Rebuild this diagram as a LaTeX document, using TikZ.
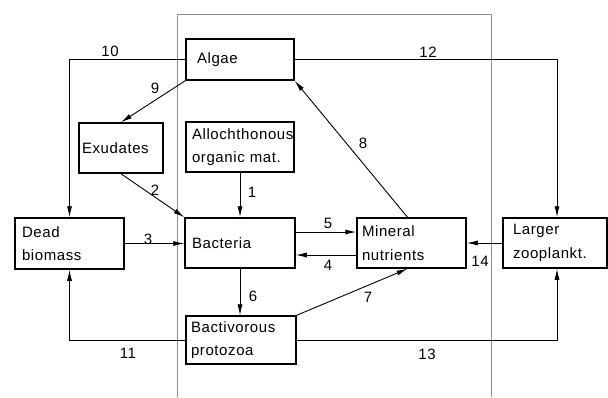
\documentclass[tikz,border=0pt]{standalone}
\usepackage{fontspec}
\setmainfont[LetterSpace=4]{Liberation Sans}
\usetikzlibrary{arrows.meta}
\begin{document}
\begin{tikzpicture}[x=1pt,y=-1pt,
  font=\fontsize{15}{23.5}\selectfont,
  bx/.style={draw, line width=1.5pt, align=left, inner xsep=6pt, inner ysep=0pt, anchor=center},
  con/.style={line width=0.9pt},
  arr/.style={con, -{Latex[length=11pt,width=5pt]}},
  lbl/.style={inner sep=0pt, anchor=center},
  frame/.style={draw=black!45, line width=0.8pt}]
\useasboundingbox (0,0) rectangle (608,397);
% page frame
\draw[frame] (177,397) -- (177,14) -- (491,14) -- (491,397);
% boxes
\node[bx, text width=86pt, inner xsep=11pt, minimum height=41pt] (algae) at (240,59.5) {Algae};
\node[bx, text width=78pt, inner xsep=3pt, minimum height=50pt] (exud) at (121,148) {Exudates};
\node[bx, text width=96pt, minimum height=50pt] (alloch) at (240,147) {Allochthonous\\organic mat.};
\node[bx, text width=95pt, inner xsep=7pt, minimum height=51pt] (dead) at (69.5,243.5) {Dead\\biomass};
\node[bx, text width=96pt, inner xsep=7pt, minimum height=50pt] (bact) at (240,243) {Bacteria};
\node[bx, text width=100pt, inner xsep=5pt, minimum height=48pt] (proto) at (241,340) {Bactivorous\\protozoa};
\node[bx, text width=99pt, inner xsep=5pt, minimum height=50pt] (mineral) at (411.5,243) {Mineral\\nutrients};
\node[bx, text width=84pt, inner xsep=10pt, minimum height=50pt] (larger) at (555,243) {Larger\\zooplankt.};
% connectors
\draw[arr] (algae.west) -| (dead.north);
\draw[arr] (algae.east) -| ([xshift=2pt]larger.north);
\draw[arr] (algae.south west) -- (exud.north);
\draw[arr] (exud.south) -- (bact.north west);
\draw[arr] (alloch.south) -- (bact.north);
\draw[arr] ([xshift=-4pt]mineral.south |- mineral.north) -- (algae.south east);
\draw[arr] (dead.east) -- (bact.west |- dead.east);
\draw[arr] ([yshift=11pt]bact.east) -- ([yshift=11pt]mineral.west);
\draw[arr] ([yshift=-12pt]mineral.west) -- ([yshift=-12pt]bact.east);
\draw[arr] (bact.south) -- (bact.south |- proto.north);
\draw[arr] (proto.north east) -- ([xshift=-4pt]mineral.south);
\draw[arr] (proto.west) -| (dead.south);
\draw[arr] (proto.east) -| ([xshift=2pt]larger.south);
\draw[arr] (larger.west) -- (mineral.east);
% labels
\node[lbl] (l10) at (110,51) {10};
\node[lbl] (l12) at (428,52) {12};
\node[lbl] (l9) at (155,88) {9};
\node[lbl] (l2) at (155,190) {2};
\node[lbl] (l1) at (252,192) {1};
\node[lbl] (l8) at (363,143) {8};
\node[lbl] (l3) at (148,239) {3};
\node[lbl] (l5) at (328,223) {5};
\node[lbl] (l4) at (328,265) {4};
\node[lbl] (l6) at (253,296) {6};
\node[lbl] (l7) at (368,297) {7};
\node[lbl] (l11) at (128,353) {11};
\node[lbl] (l13) at (427,354) {13};
\node[lbl] (l14) at (480,261) {14};
\end{tikzpicture}
\end{document}
